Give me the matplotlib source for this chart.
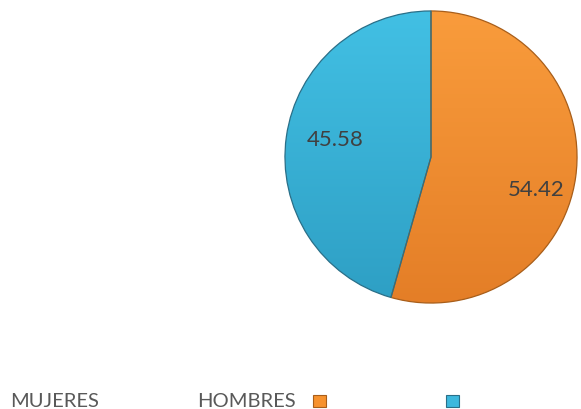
import numpy as np
import matplotlib.pyplot as plt
from matplotlib.colors import LinearSegmentedColormap
from matplotlib.patches import Rectangle

plt.rcParams['font.family'] = ['Lato', 'DejaVu Sans']

# porcentajes por sexo
categorias = ['MUJERES', 'HOMBRES']
valores = [54.42, 45.58]
colores = ['#F7922E', '#3DB8DD']
claros = ['#F99C3C', '#42C0E4']
oscuros = ['#E47E27', '#2E9FC4']
bordes = ['#A85E1A', '#2A6F88']

W, H = 581, 410
fig = plt.figure(figsize=(W / 100, H / 100), dpi=100)

# ejes del pastel en pixeles: centro (431, 158), radio 147.5
cx, cy, r = 431, 158, 147.5
ax = fig.add_axes([(cx - r) / W, (H - cy - r) / H, 2 * r / W, 2 * r / H])
wedges, _ = ax.pie(valores, colors=colores, startangle=90, counterclock=False,
                   radius=1, wedgeprops=dict(linewidth=0.9))

# degradado vertical dentro de cada porcion
grad = np.linspace(0, 1, 256).reshape(-1, 1)
for w, c1, c2, b in zip(wedges, claros, oscuros, bordes):
    cmap = LinearSegmentedColormap.from_list('g', [c2, c1])
    im = ax.imshow(grad, cmap=cmap, extent=(-1, 1, -1, 1), origin='lower',
                   aspect='auto', zorder=w.get_zorder() + 0.1)
    im.set_clip_path(w)
    w.set_edgecolor(b)
    w.set_facecolor('none')
    w.set_zorder(w.get_zorder() + 0.2)

ax.set_xlim(-1.01, 1.01)
ax.set_ylim(-1.01, 1.01)
ax.set_aspect('equal')
ax.axis('off')

# etiquetas de datos
pos_etiquetas = [(0.72, -0.217), (-0.658, 0.122)]
for v, (x, y) in zip(valores, pos_etiquetas):
    ax.text(x, y, f'{v:.2f}', ha='center', va='center', fontsize=16, color='#404040', zorder=5)

# leyenda
fig.text(10 / W, 1 - 402 / H, categorias[0], ha='left', va='center', fontsize=14.5, color='#595959')
fig.text(197 / W, 1 - 402 / H, categorias[1], ha='left', va='center', fontsize=14.5, color='#595959')
for x0, c, b in [(313, colores[0], bordes[0]), (446, colores[1], bordes[1])]:
    fig.patches.append(Rectangle((x0 / W, 1 - 408 / H), 13 / W, 12 / H, transform=fig.transFigure,
                                 facecolor=c, edgecolor=b, linewidth=0.8))

fig.savefig('out.png', dpi=100)
